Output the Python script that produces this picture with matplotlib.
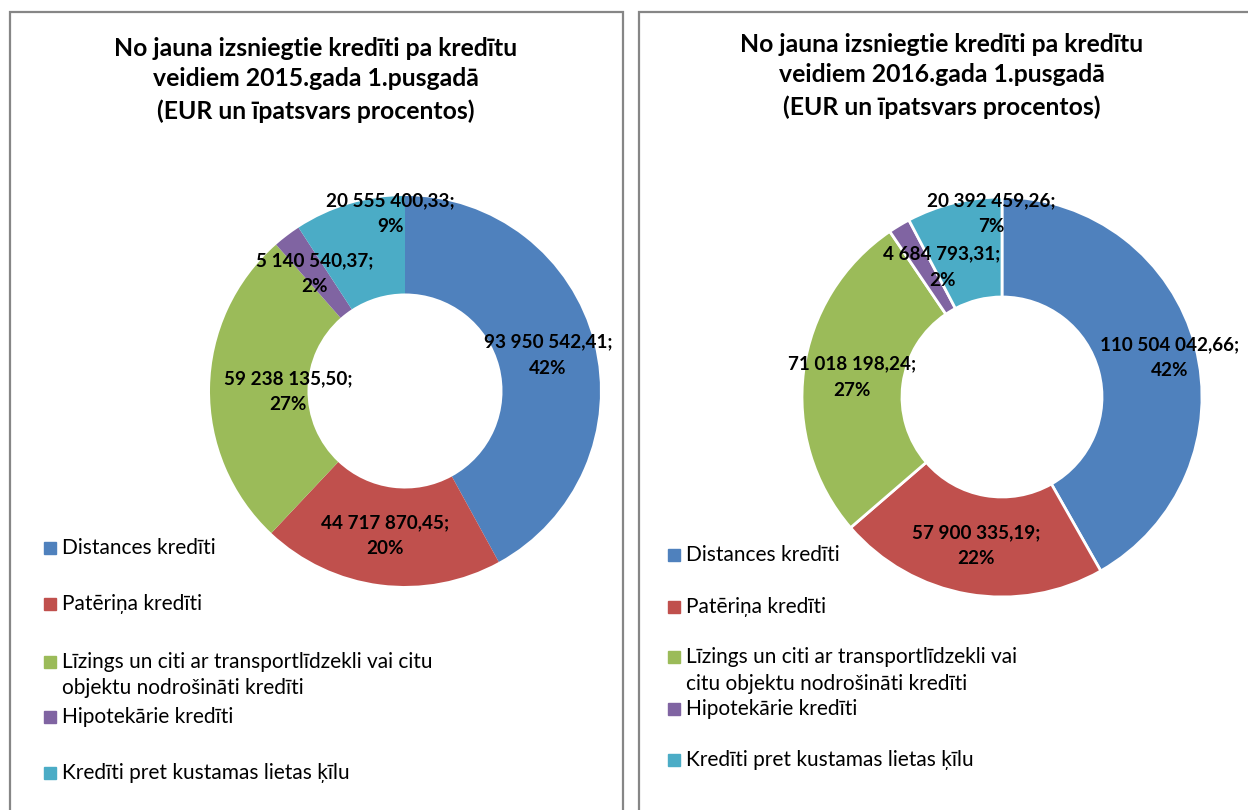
import matplotlib
matplotlib.use('Agg')
import matplotlib.pyplot as plt
from matplotlib.patches import Rectangle

plt.rcParams['font.family'] = ['Lato', 'DejaVu Sans']

categories = ['Distances kredīti', 'Patēriņa kredīti',
              'Līzings un citi ar transportlīdzekli vai citu objektu nodrošināti kredīti',
              'Hipotekārie kredīti', 'Kredīti pret kustamas lietas ķīlu']
colors = ['#4F81BD', '#C0504D', '#9BBB59', '#8064A2', '#4BACC6']

values_2015 = [93950542.41, 44717870.45, 59238135.50, 5140540.37, 20555400.33]
pct_2015 = [42, 20, 27, 2, 9]
values_2016 = [110504042.66, 57900335.19, 71018198.24, 4684793.31, 20392459.26]
pct_2016 = [42, 22, 27, 2, 7]

titles = [['No jauna izsniegtie kredīti pa kredītu', 'veidiem 2015.gada 1.pusgadā',
           '(EUR un īpatsvars procentos)'],
          ['No jauna izsniegtie kredīti pa kredītu', 'veidiem 2016.gada 1.pusgadā',
           '(EUR un īpatsvars procentos)']]

# legend text wrapped differently in each box
legend_lines = [[['Distances kredīti'], ['Patēriņa kredīti'],
                 ['Līzings un citi ar transportlīdzekli vai citu', 'objektu nodrošināti kredīti'],
                 ['Hipotekārie kredīti'], ['Kredīti pret kustamas lietas ķīlu']],
                [['Distances kredīti'], ['Patēriņa kredīti'],
                 ['Līzings un citi ar transportlīdzekli vai', 'citu objektu nodrošināti kredīti'],
                 ['Hipotekārie kredīti'], ['Kredīti pret kustamas lietas ķīlu']]]


def fmt(v):
    return f'{v:,.2f}'.replace(',', ' ').replace('.', ',') + ';'


W, H = 1248, 810
fig = plt.figure(figsize=(W / 100, H / 100), dpi=100)

# layout in pixels
charts = [
    dict(values=values_2015, pct=pct_2015, cx=405, cy=391, R=195, edge=None,
         box=(10, 623), title_x=316, title_y=[48, 79, 111],
         lab=[(548, 355), (385, 536), (288, 392), (315, 274), (390, 214)],
         leg_x=44, leg_y=[[548], [604], [662, 688], [717], [773]]),
    dict(values=values_2016, pct=pct_2016, cx=1002, cy=397, R=200, edge='white',
         box=(639, 1260), title_x=942, title_y=[44, 75, 107],
         lab=[(1170, 358), (976, 546), (852, 377), (942, 267), (991, 214)],
         leg_x=668, leg_y=[[555], [607], [657, 684], [709], [760]]),
]

ax_bg = fig.add_axes([0, 0, 1, 1])
ax_bg.set_xlim(0, W)
ax_bg.set_ylim(H, 0)
ax_bg.axis('off')
ax_bg.set_zorder(10)
ax_bg.patch.set_visible(False)

for i, c in enumerate(charts):
    # box border
    x0, x1 = c['box']
    ax_bg.plot([x0, x0, x1, x1], [H + 5, 12, 12, H + 5], color='#868686', lw=1.6,
               solid_joinstyle='miter')

    # donut
    R = c['R']
    ax = fig.add_axes([(c['cx'] - R) / W, (H - c['cy'] - R) / H, 2 * R / W, 2 * R / H])
    wp = dict(width=0.5)
    if c['edge']:
        wp.update(edgecolor='white', linewidth=2)
    else:
        wp.update(edgecolor='none')
    ax.pie(c['values'], colors=colors, startangle=90, counterclock=False,
           radius=1, wedgeprops=wp)
    ax.set_xlim(-1, 1)
    ax.set_ylim(-1, 1)
    ax.set_aspect('equal')

    # title
    for line, y in zip(titles[i], c['title_y']):
        ax_bg.text(c['title_x'], y, line, ha='center', va='center',
                   fontsize=17.8, fontweight='bold', color='black')

    # data labels
    for v, p, (lx, ly) in zip(c['values'], c['pct'], c['lab']):
        ax_bg.text(lx, ly - 13, fmt(v), ha='center', va='center',
                   fontsize=13.6, fontweight='bold', color='black')
        ax_bg.text(lx, ly + 13, f'{p}%', ha='center', va='center',
                   fontsize=13.6, fontweight='bold', color='black')

    # legend
    for col, lines, ys in zip(colors, legend_lines[i], c['leg_y']):
        ax_bg.add_patch(Rectangle((c['leg_x'], ys[0] - 6), 12, 12, color=col))
        for line, y in zip(lines, ys):
            ax_bg.text(c['leg_x'] + 18, y, line, ha='left', va='center',
                       fontsize=15, color='black')

fig.savefig('out.png', dpi=100, facecolor='white')
